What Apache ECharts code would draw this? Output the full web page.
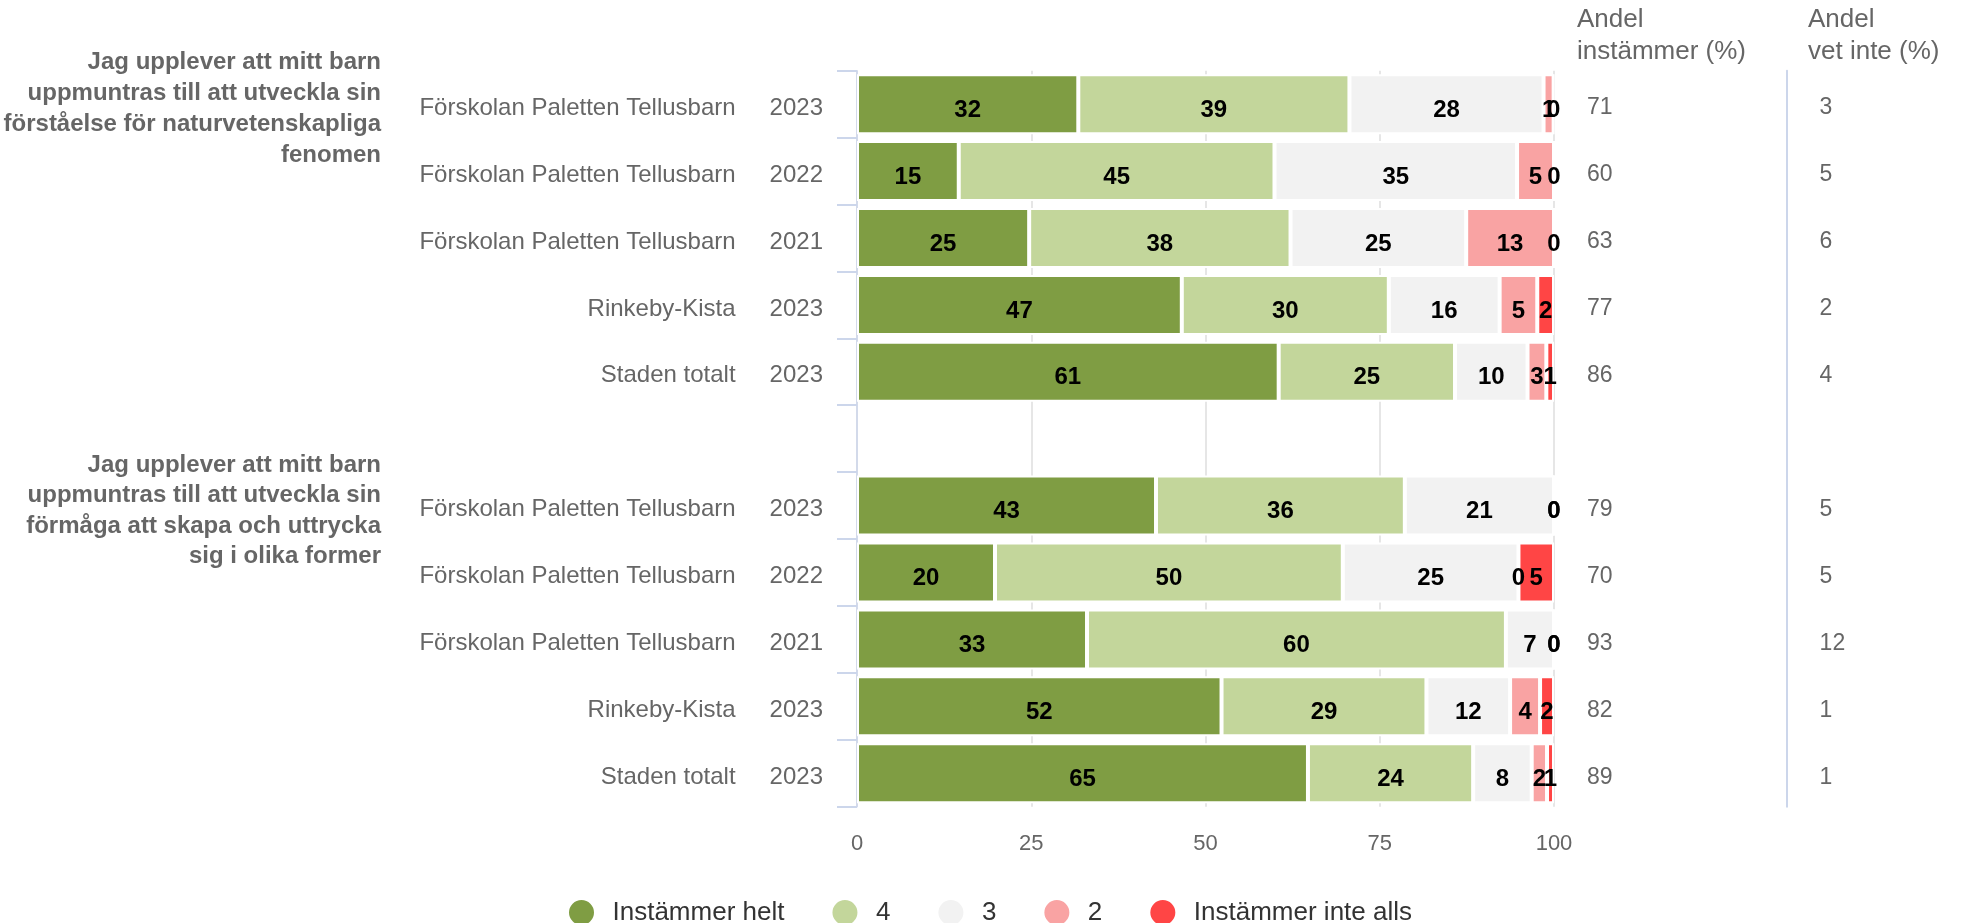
<!DOCTYPE html>
<html>
<head>
<meta charset="utf-8">
<script src="https://cdn.jsdelivr.net/npm/echarts@6/dist/echarts.min.js"></script>
<style>
html,body{margin:0;padding:0;background:#fff;}
#c{width:1964px;height:923px;}
</style>
</head>
<body>
<div id="c"></div>
<script>
// ---- data ----
const groupTitles = [
  "Jag upplever att mitt barn\nuppmuntras till att utveckla sin\nförståelse för naturvetenskapliga\nfenomen",
  "Jag upplever att mitt barn\nuppmuntras till att utveckla sin\nförmåga att skapa och uttrycka\nsig i olika former"
];
const units = [
  "Förskolan Paletten Tellusbarn", "Förskolan Paletten Tellusbarn", "Förskolan Paletten Tellusbarn", "Rinkeby-Kista", "Staden totalt",
  "",
  "Förskolan Paletten Tellusbarn", "Förskolan Paletten Tellusbarn", "Förskolan Paletten Tellusbarn", "Rinkeby-Kista", "Staden totalt"
];
const years = ["2023", "2022", "2021", "2023", "2023", "", "2023", "2022", "2021", "2023", "2023"];
const seriesNames = ["Instämmer helt", "4", "3", "2", "Instämmer inte alls"];
const instammerHelt     = [31.75, 14.6, 24.7, 46.6, 60.5, null, 42.9, 19.8, 33.0, 52.3, 64.7];
const varde4            = [38.9, 45.3, 37.5, 29.7, 25.3, null, 35.7, 49.9, 60.1, 29.4, 23.7];
const varde3            = [27.85, 34.8, 25.2, 15.9, 10.4, null, 21.4, 25.2, 6.9, 12.0, 8.4];
const varde2            = [1.45, 5.3, 12.6, 5.4, 2.7, null, 0, 0, 0, 4.3, 2.2];
const instammerInteAlls = [0, 0, 0, 2.4, 1.1, null, 0, 5.1, 0, 2.0, 1.0];
const andelInstammer = [71, 60, 63, 77, 86, null, 79, 70, 93, 82, 89];
const andelVetInte   = [3, 5, 6, 2, 4, null, 5, 5, 12, 1, 1];
const headerInstammer = "Andel\ninstämmer (%)";
const headerVetInte = "Andel\nvet inte (%)";
const xTicks = [0, 25, 50, 75, 100];

// ---- chart ----
const colors = ["#7f9d43", "#c3d69b", "#f2f2f2", "#f9a3a3", "#ff4545"];
const seriesData = [instammerHelt, varde4, varde3, varde2, instammerInteAlls];
const rowKeys = units.map((u, i) => "r" + i);
const FONT = "'Liberation Sans', Arial, Helvetica, sans-serif";

const chart = echarts.init(document.getElementById('c'), null, {renderer: 'canvas'});

const valueRich = {v: {fontSize: 23, color: '#666666', fontFamily: FONT, padding: [8, 0, 0, 0]}};

const option = {
  animation: false,
  backgroundColor: '#ffffff',
  textStyle: {fontFamily: FONT},
  color: colors,
  grid: {left: 857, width: 697, top: 70.7, height: 736, containLabel: false},
  legend: {
    data: seriesNames,
    icon: 'circle',
    left: 562,
    top: 893,
    itemWidth: 52,
    itemHeight: 27,
    itemGap: 46,
    textStyle: {fontSize: 26, color: '#333333', fontFamily: FONT}
  },
  xAxis: {
    type: 'value',
    min: xTicks[0],
    max: xTicks[xTicks.length - 1],
    interval: xTicks[1] - xTicks[0],
    axisLine: {show: false},
    axisTick: {show: false},
    axisLabel: {fontSize: 22, color: '#666666', margin: 26, fontFamily: FONT},
    splitLine: {show: true, lineStyle: {color: '#e6e6e6', width: 2}}
  },
  yAxis: [
    {
      type: 'category',
      data: rowKeys,
      inverse: true,
      axisLine: {show: true, lineStyle: {color: '#ccd6eb', width: 1.5}},
      axisTick: {show: true, length: 20, interval: 0, lineStyle: {color: '#ccd6eb', width: 2}},
      axisLabel: {
        interval: 0,
        margin: 34,
        formatter: (v, i) => units[i] ? '{u|' + units[i] + '}{y|' + years[i] + '}' : '',
        rich: {
          u: {fontSize: 24, color: '#666666', fontFamily: FONT, padding: [8, 0, 0, 0]},
          y: {fontSize: 24, color: '#666666', fontFamily: FONT, padding: [8, 0, 0, 34]}
        }
      },
      splitLine: {show: false}
    },
    {
      type: 'category',
      data: rowKeys,
      inverse: true,
      position: 'right',
      axisLine: {show: false},
      axisTick: {show: false},
      axisLabel: {
        interval: 0,
        margin: 33,
        formatter: (v, i) => andelInstammer[i] == null ? '' : '{v|' + andelInstammer[i] + '}',
        rich: valueRich
      },
      splitLine: {show: false}
    },
    {
      type: 'category',
      data: rowKeys,
      inverse: true,
      position: 'right',
      offset: 232.6,
      axisLine: {show: true, lineStyle: {color: '#ccd6eb', width: 2}},
      axisTick: {show: false},
      axisLabel: {
        interval: 0,
        margin: 33,
        formatter: (v, i) => andelVetInte[i] == null ? '' : '{v|' + andelVetInte[i] + '}',
        rich: valueRich
      },
      splitLine: {show: false}
    }
  ],
  series: seriesNames.map((name, k) => ({
    name: name,
    type: 'bar',
    stack: 'total',
    yAxisIndex: 0,
    barWidth: 60,
    data: seriesData[k],
    itemStyle: {color: colors[k], borderColor: '#ffffff', borderWidth: 2},
    label: {
      show: true,
      position: 'inside',
      offset: [0, 6],
      fontSize: 24,
      fontWeight: 'bold',
      color: '#000000',
      fontFamily: FONT,
      textBorderWidth: 0,
      formatter: p => (p.value == null ? '' : String(Math.round(p.value)))
    },
    emphasis: {disabled: true}
  })),
  graphic: [
    {type: 'text', x: 381, y: 47, style: {text: groupTitles[0], align: 'right', verticalAlign: 'top', fill: '#666666', font: 'bold 24px ' + FONT, lineHeight: 31}},
    {type: 'text', x: 381, y: 450, style: {text: groupTitles[1], align: 'right', verticalAlign: 'top', fill: '#666666', font: 'bold 24px ' + FONT, lineHeight: 30.5}},
    {type: 'text', x: 1577, y: 4, style: {text: headerInstammer, align: 'left', verticalAlign: 'top', fill: '#666666', font: '26px ' + FONT, lineHeight: 32}},
    {type: 'text', x: 1808, y: 4, style: {text: headerVetInte, align: 'left', verticalAlign: 'top', fill: '#666666', font: '26px ' + FONT, lineHeight: 32}}
  ]
};
chart.setOption(option);
</script>
</body>
</html>
